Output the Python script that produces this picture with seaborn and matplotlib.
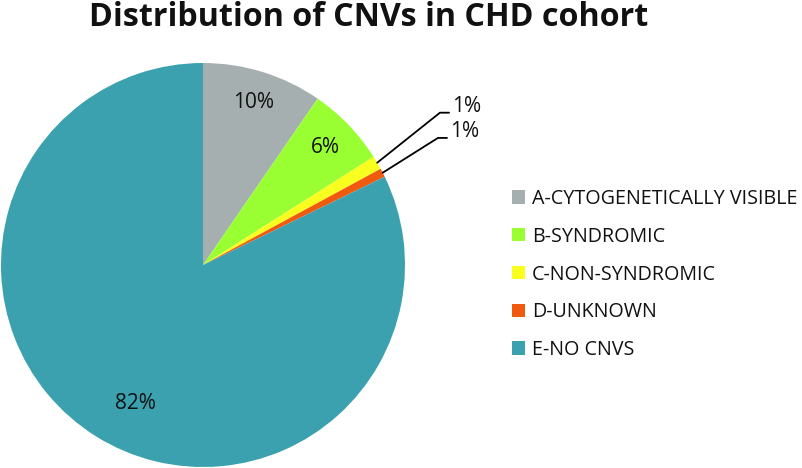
import matplotlib
matplotlib.use('Agg')
import matplotlib.pyplot as plt
from matplotlib.patches import Patch
import seaborn as sns
import numpy as np

categories = ["A-CYTOGENETICALLY VISIBLE", "B-SYNDROMIC", "C-NON-SYNDROMIC", "D-UNKNOWN", "E-NO CNVS"]
values = [9.6, 6.4, 1.1, 0.7, 82.2]
pct_labels = ["10%", "6%", "1%", "1%", "82%"]
colors = ["#A5AFAF", "#99FF33", "#F8FF1F", "#F05A0F", "#3BA1AF"]
title = "Distribution of CNVs in CHD cohort"

sns.set_theme(style="white")
plt.rcParams['font.family'] = ['Open Sans', 'DejaVu Sans']

W, H = 802, 468
fig = plt.figure(figsize=(W / 100, H / 100), dpi=100)
ax = fig.add_axes([1 / W, 1 / H, 404 / W, 404 / H])
wedges, _ = ax.pie(values, colors=colors, startangle=90, counterclock=False,
                   radius=1, wedgeprops=dict(linewidth=0))
ax.set_xlim(-1, 1)
ax.set_ylim(-1, 1)
ax.set_aspect('equal')

pfs = 15
# inside labels: (radial distance, angular offset in degrees)
inside_pos = {0: (0.84, 0), 1: (0.84, 0), 4: (0.765, 6)}
for i, w in enumerate(wedges):
    if i in inside_pos:
        r, off = inside_pos[i]
        mid = np.deg2rad((w.theta1 + w.theta2) / 2 + off)
        ax.text(r * np.cos(mid), r * np.sin(mid), pct_labels[i], ha='center', va='center',
                fontsize=pfs, color='#111111')

# leader lines for small slices
elbows = {2: (1.173, 0.754), 3: (1.163, 0.629)}
for i, (ex, ey) in elbows.items():
    w = wedges[i]
    mid = np.deg2rad((w.theta1 + w.theta2) / 2)
    sx, sy = np.cos(mid), np.sin(mid)
    ax.plot([sx, ex, ex + 0.045], [sy, ey, ey], color='black', lw=1.3, clip_on=False,
            solid_joinstyle='miter')
    ax.text(ex + 0.06, ey + 0.03, pct_labels[i], ha='left', va='center', fontsize=pfs,
            color='#111111', clip_on=False)

fig.text(369 / W, 1 - 18 / H, title, ha='center', va='center', fontsize=23.2,
         fontweight='bold', color='#111111')

handles = [Patch(facecolor=c, edgecolor='none') for c in colors]
fs = 14.2
fs_px = fs * 100 / 72
fig.legend(handles, categories, loc='upper left', bbox_to_anchor=(512 / W, 1 - 189 / H),
           frameon=False, fontsize=fs, handlelength=13 / fs_px, handleheight=13 / fs_px,
           handletextpad=7 / fs_px, labelspacing=0.9, borderpad=0, borderaxespad=0,
           labelcolor='#111111')

fig.savefig('out.png', dpi=100)
